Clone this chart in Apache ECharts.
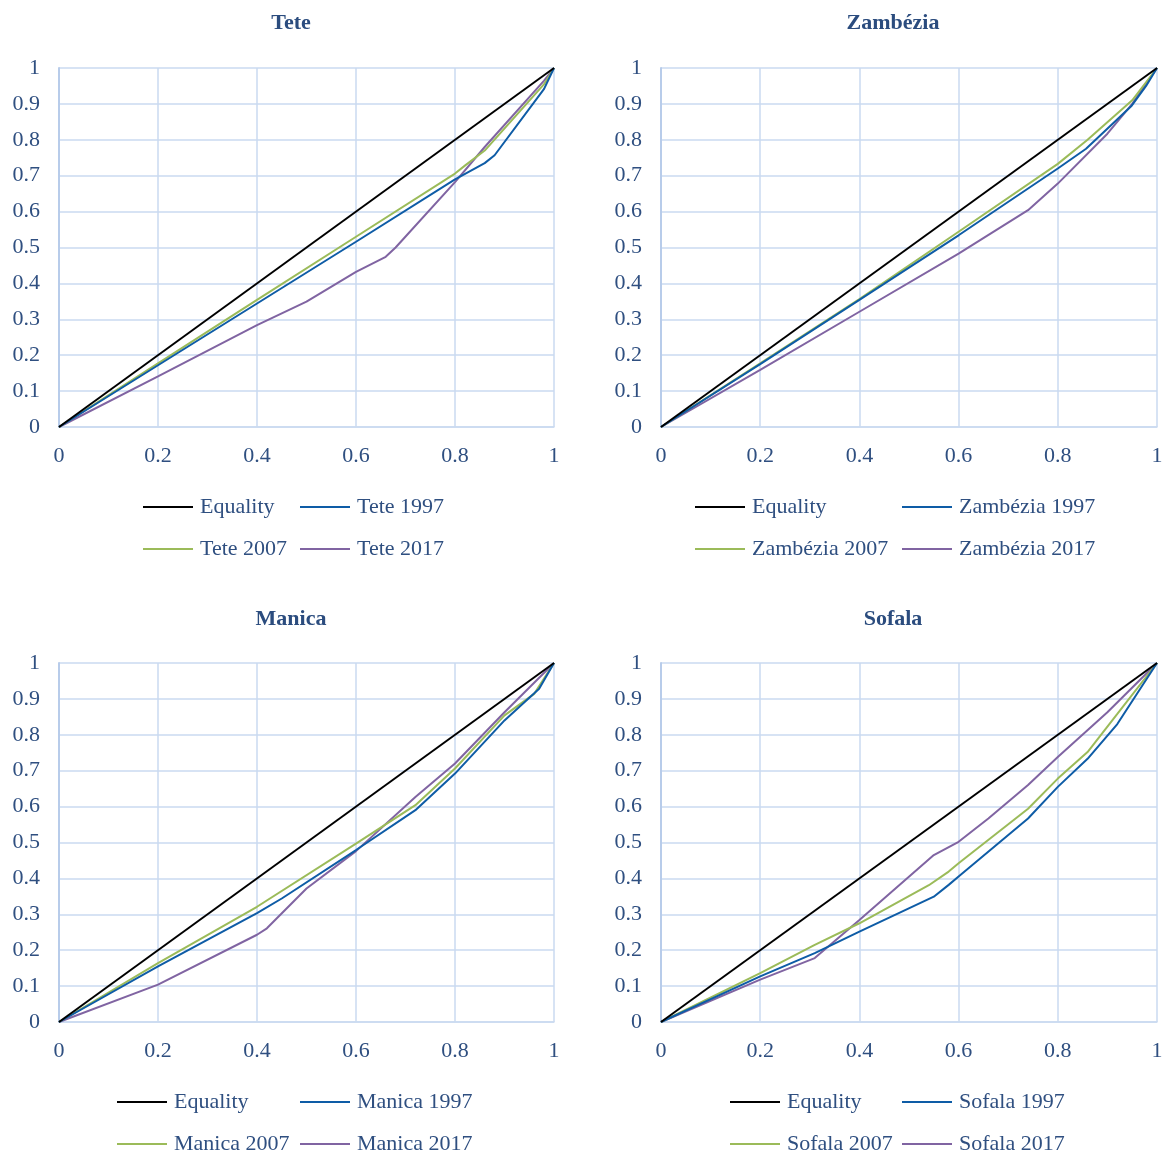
<!DOCTYPE html>
<html><head><meta charset="utf-8">
<script src="https://cdn.jsdelivr.net/npm/echarts@6/dist/echarts.min.js"></script>
<style>html,body{margin:0;padding:0;background:#fff}#c{width:1166px;height:1160px}</style>
</head><body><div id="c"></div>
<script>
// ---- data ----
const panels = ["Tete", "Zambézia", "Manica", "Sofala"];
const yearLabels = ["1997", "2007", "2017"];
const ticks = [0, 0.2, 0.4, 0.6, 0.8, 1];
const equality = [[0,0],[1,1]];

const tete1997 = [[0,0],[0.2,0.172],[0.4,0.344],[0.6,0.516],[0.8,0.69],[0.86,0.735],[0.88,0.757],[0.98,0.942],[1,1]];
const tete2007 = [[0,0],[0.2,0.177],[0.4,0.354],[0.6,0.53],[0.8,0.706],[0.82,0.728],[0.86,0.77],[0.98,0.955],[1,1]];
const tete2017 = [[0,0],[0.2,0.141],[0.4,0.284],[0.5,0.349],[0.6,0.432],[0.66,0.474],[0.68,0.5],[0.8,0.682],[0.86,0.78],[0.98,0.965],[1,1]];

const zam1997 = [[0,0],[0.2,0.175],[0.4,0.354],[0.6,0.534],[0.8,0.72],[0.857,0.775],[0.949,0.895],[0.978,0.95],[1,1]];
const zam2007 = [[0,0],[0.2,0.177],[0.4,0.356],[0.6,0.544],[0.8,0.733],[0.86,0.80],[0.95,0.91],[1,1]];
const zam2017 = [[0,0],[0.2,0.159],[0.4,0.321],[0.6,0.483],[0.74,0.604],[0.8,0.678],[0.9,0.817],[0.95,0.9],[1,1]];

const man1997 = [[0,0],[0.2,0.155],[0.4,0.303],[0.45,0.344],[0.6,0.479],[0.72,0.59],[0.8,0.692],[0.9,0.84],[0.97,0.928],[1,1]];
const man2007 = [[0,0],[0.2,0.164],[0.4,0.321],[0.6,0.497],[0.72,0.604],[0.8,0.706],[0.9,0.854],[0.96,0.914],[1,1]];
const man2017 = [[0,0],[0.2,0.104],[0.4,0.243],[0.42,0.261],[0.5,0.372],[0.6,0.476],[0.72,0.627],[0.8,0.72],[0.9,0.863],[1,1]];

const sof1997 = [[0,0],[0.2,0.127],[0.31,0.192],[0.4,0.252],[0.55,0.349],[0.58,0.382],[0.6,0.405],[0.74,0.567],[0.8,0.655],[0.86,0.733],[0.92,0.83],[1,1]];
const sof2007 = [[0,0],[0.2,0.136],[0.31,0.215],[0.4,0.275],[0.54,0.381],[0.58,0.419],[0.6,0.442],[0.74,0.594],[0.8,0.678],[0.86,0.752],[0.92,0.858],[1,1]];
const sof2017 = [[0,0],[0.2,0.118],[0.31,0.178],[0.4,0.284],[0.55,0.465],[0.6,0.502],[0.66,0.567],[0.74,0.66],[0.8,0.738],[0.9,0.863],[1,1]];

const panelData = [
  [tete1997, tete2007, tete2017],
  [zam1997, zam2007, zam2017],
  [man1997, man2007, man2017],
  [sof1997, sof2007, sof2017]
];

// ---- styles / layout ----
const FONT = "Liberation Serif";
const TXT = "#2F4F80";
const GRIDC = "#CADAF0";
const colors = ["#000000", "#0E5CA6", "#9BBB59", "#8064A2"];
const layout = [
  {left: 59, top: 68, w: 495, tc: 291, tt: 7, legL: [143, 300], legT: [496, 538]},
  {left: 661, top: 68, w: 496, tc: 893, tt: 7, legL: [695, 902], legT: [496, 538]},
  {left: 59, top: 663, w: 495, tc: 291, tt: 603, legL: [117, 300], legT: [1091, 1133]},
  {left: 661, top: 663, w: 496, tc: 893, tt: 603, legL: [730, 902], legT: [1091, 1133]}
];
const plotH = 359;

const option = {
  backgroundColor: "#fff",
  animation: false,
  textStyle: {fontFamily: FONT},
  title: [], grid: [], xAxis: [], yAxis: [], series: [], legend: []
};

panels.forEach((p, i) => {
  const L = layout[i];
  option.title.push({text: p, left: L.tc - 5, top: L.tt, textAlign: "center",
    textStyle: {fontFamily: FONT, fontSize: 22, fontWeight: "bold", color: "#2B4C7E"}});
  option.grid.push({left: L.left, top: L.top, width: L.w, height: plotH, containLabel: false});
  option.xAxis.push({type: "value", gridIndex: i, min: 0, max: 1, interval: 0.2,
    axisLine: {show: true, lineStyle: {color: GRIDC, width: 1.5}},
    axisTick: {show: false},
    splitLine: {show: true, lineStyle: {color: GRIDC, width: 1.5}},
    axisLabel: {fontFamily: FONT, fontSize: 22, color: TXT, margin: 18,
      formatter: v => String(Math.round(v * 10) / 10)}});
  option.yAxis.push({type: "value", gridIndex: i, min: 0, max: 1, interval: 0.1,
    axisLine: {show: true, lineStyle: {color: "#B8CCEA", width: 2}},
    axisTick: {show: false},
    splitLine: {show: true, lineStyle: {color: GRIDC, width: 1.5}},
    axisLabel: {fontFamily: FONT, fontSize: 22, color: TXT, margin: 19,
      formatter: v => String(Math.round(v * 10) / 10)}});
  const names = ["Equality"].concat(yearLabels.map(y => p + " " + y));
  const datas = [equality].concat(panelData[i]);
  names.forEach((n, k) => {
    option.series.push({type: "line", name: n, xAxisIndex: i, yAxisIndex: i,
      data: datas[k], symbol: "none", smooth: false, z: 10 - k,
      lineStyle: {color: colors[k], width: 2}, itemStyle: {color: colors[k]}});
    const col = k % 2, row = Math.floor(k / 2);
    option.legend.push({data: [n], left: L.legL[col], top: L.legT[row], padding: 0,
      icon: "rect", itemWidth: 50, itemHeight: 2, selectedMode: false,
      textStyle: {fontFamily: FONT, fontSize: 22, color: TXT, padding: [0,0,0,2]}});
  });
});

const chart = echarts.init(document.getElementById("c"), null, {renderer: "canvas"});
chart.setOption(option);
</script></body></html>
